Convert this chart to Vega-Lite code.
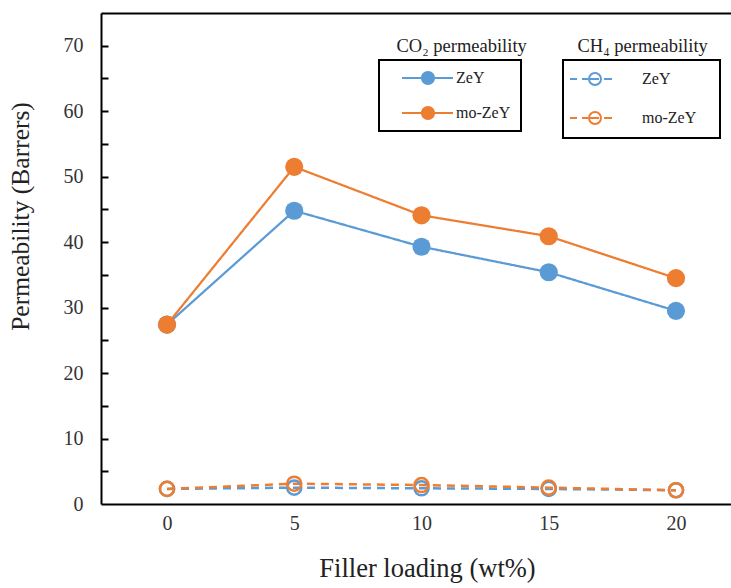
{
  "$schema": "https://vega.github.io/schema/vega-lite/v6.json",
  "width": 630,
  "height": 491,
  "autosize": {"type": "none"},
  "padding": {"left": 101, "top": 13, "right": 0, "bottom": 84},
  "background": "white",
  "config": {
    "font": "Liberation Serif",
    "view": {"stroke": null},
    "axis": {
      "grid": false,
      "domainColor": "black",
      "domainWidth": 2,
      "labelColor": "#333333",
      "titleColor": "#222222",
      "labelFont": "Liberation Serif",
      "titleFont": "Liberation Serif",
      "titleFontWeight": "normal",
      "labelFontSize": 20,
      "titleFontSize": 25.5
    },
    "legend": {
      "labelFont": "Liberation Serif",
      "labelColor": "#222222",
      "strokeWidth": 2
    }
  },
  "data": {
    "values": [
      {"gas": "CO₂", "material": "ZeY", "loading": 0, "permeability": 27.4},
      {"gas": "CO₂", "material": "ZeY", "loading": 5, "permeability": 44.8},
      {"gas": "CO₂", "material": "ZeY", "loading": 10, "permeability": 39.3},
      {"gas": "CO₂", "material": "ZeY", "loading": 15, "permeability": 35.4},
      {"gas": "CO₂", "material": "ZeY", "loading": 20, "permeability": 29.5},
      {"gas": "CO₂", "material": "mo-ZeY", "loading": 0, "permeability": 27.4},
      {"gas": "CO₂", "material": "mo-ZeY", "loading": 5, "permeability": 51.5},
      {"gas": "CO₂", "material": "mo-ZeY", "loading": 10, "permeability": 44.1},
      {"gas": "CO₂", "material": "mo-ZeY", "loading": 15, "permeability": 40.9},
      {"gas": "CO₂", "material": "mo-ZeY", "loading": 20, "permeability": 34.5},
      {"gas": "CH₄", "material": "ZeY", "loading": 0, "permeability": 2.3},
      {"gas": "CH₄", "material": "ZeY", "loading": 5, "permeability": 2.5},
      {"gas": "CH₄", "material": "ZeY", "loading": 10, "permeability": 2.4},
      {"gas": "CH₄", "material": "ZeY", "loading": 15, "permeability": 2.3},
      {"gas": "CH₄", "material": "ZeY", "loading": 20, "permeability": 2.1},
      {"gas": "CH₄", "material": "mo-ZeY", "loading": 0, "permeability": 2.3},
      {"gas": "CH₄", "material": "mo-ZeY", "loading": 5, "permeability": 3.1},
      {"gas": "CH₄", "material": "mo-ZeY", "loading": 10, "permeability": 2.9},
      {"gas": "CH₄", "material": "mo-ZeY", "loading": 15, "permeability": 2.5},
      {"gas": "CH₄", "material": "mo-ZeY", "loading": 20, "permeability": 2.1}
    ]
  },
  "encoding": {
    "x": {
      "field": "loading", "type": "quantitative",
      "scale": {"domain": [-2.593, 22.161], "nice": false, "zero": false},
      "axis": null
    },
    "y": {
      "field": "permeability", "type": "quantitative",
      "scale": {"domain": [0, 75], "nice": false},
      "axis": null
    },
    "color": {
      "field": "material", "type": "nominal",
      "scale": {"domain": ["ZeY", "mo-ZeY"], "range": ["#5B9BD5", "#ED7D31"]},
      "legend": null
    }
  },
  "layer": [
    {
      "transform": [{"filter": "datum.gas == 'CO₂'"}],
      "mark": {"type": "line", "strokeWidth": 2.25},
      "encoding": {
        "x": {
          "field": "loading", "type": "quantitative",
          "scale": {"domain": [-2.593, 22.161], "nice": false, "zero": false},
          "axis": {"orient": "top", "labels": false, "ticks": false, "title": null, "domain": true}
        },
        "y": {
          "field": "permeability", "type": "quantitative",
          "scale": {"domain": [0, 75], "nice": false},
          "axis": {
            "orient": "left",
            "values": [0, 10, 20, 30, 40, 50, 60, 70],
            "ticks": false,
            "labelPadding": 18,
            "title": "Permeability (Barrers)",
            "titlePadding": 30,
            "titleY": 203
          }
        },
        "strokeDash": {
          "field": "gas", "type": "nominal",
          "scale": {"domain": ["CO₂", "CH₄"], "range": [[1, 0], [8, 6]]},
          "legend": {
            "orient": "none",
            "legendX": 277,
            "legendY": 24,
            "direction": "horizontal",
            "title": null,
            "padding": 0,
            "strokeColor": null,
            "symbolSize": 0,
            "symbolOpacity": 0,
            "symbolStrokeWidth": 0,
            "labelOffset": 0,
            "labelFontSize": 18.5,
            "columnPadding": 32,
            "labelExpr": "datum.label + ' permeability'"
          }
        }
      }
    },
    {
      "transform": [{"filter": "datum.gas == 'CO₂'"}],
      "mark": {"type": "point", "shape": "circle", "filled": true, "size": 330, "opacity": 1, "strokeWidth": 0},
      "encoding": {
        "x": {
          "field": "loading", "type": "quantitative",
          "scale": {"domain": [-2.593, 22.161], "nice": false, "zero": false},
          "axis": {
            "orient": "bottom",
            "values": [0, 5, 10, 15, 20],
            "ticks": false,
            "labelPadding": 9,
            "title": "Filler loading (wt%)",
            "titleFontSize": 26.5,
            "titlePadding": 22,
            "titleX": 326
          }
        },
        "color": {
          "field": "material", "type": "nominal",
          "scale": {"domain": ["ZeY", "mo-ZeY"], "range": ["#5B9BD5", "#ED7D31"]},
          "legend": {
            "orient": "none",
            "legendX": 278,
            "legendY": 47,
            "title": null,
            "strokeColor": "black",
            "padding": 10,
            "symbolType": "M0.625,-0.14H7.0V0.14H0.625Z M4.75,0A0.875,0.875 0 1,1 3.0,0A0.875,0.875 0 1,1 4.75,0",
            "symbolSize": 256,
            "symbolStrokeWidth": 0,
            "symbolOffset": 0,
            "labelOffset": 51,
            "rowPadding": 19,
            "labelFontSize": 16,
            "labelExpr": "datum.label + '         '"
          }
        }
      }
    },
    {
      "transform": [{"filter": "datum.gas == 'CH₄'"}],
      "mark": {"type": "line", "strokeWidth": 2.5},
      "encoding": {
        "y": {
          "field": "permeability", "type": "quantitative",
          "scale": {"domain": [0, 75], "nice": false},
          "axis": {
            "orient": "right",
            "offset": -630,
            "values": [5, 10, 15, 20, 25, 30, 35, 40, 45, 50, 55, 60, 65, 70],
            "labels": false,
            "domain": false,
            "title": null,
            "ticks": true,
            "tickSize": 7,
            "tickWidth": 2,
            "tickColor": "black"
          }
        },
        "strokeDash": {"field": "gas", "type": "nominal", "scale": {"domain": ["CO₂", "CH₄"], "range": [[1, 0], [8, 6]]}}
      }
    },
    {
      "transform": [{"filter": "datum.gas == 'CH₄'"}],
      "mark": {"type": "point", "shape": "circle", "filled": false, "fill": null, "size": 200, "opacity": 1, "strokeWidth": 2.5},
      "encoding": {
        "color": {
          "field": "material", "type": "nominal",
          "scale": {"domain": ["ZeY", "mo-ZeY"], "range": ["#5B9BD5", "#ED7D31"]},
          "legend": {
            "orient": "none",
            "legendX": 462,
            "legendY": 47,
            "title": null,
            "strokeColor": "black",
            "padding": 10,
            "symbolType": "M-1.5,0H-0.625M0,0H0.75M0.875,0H2.125M2.75,0H3.75M2.375,0A0.75,0.75 0 1,1 0.875,0A0.75,0.75 0 1,1 2.375,0M15.4,0",
            "symbolSize": 256,
            "symbolStrokeWidth": 2,
            "symbolOffset": 0,
            "labelOffset": 51,
            "rowPadding": 19,
            "labelFontSize": 16
          }
        }
      }
    }
  ],
  "resolve": {
    "scale": {"color": "independent"},
    "legend": {"color": "independent"},
    "axis": {"x": "independent", "y": "independent"}
  }
}
